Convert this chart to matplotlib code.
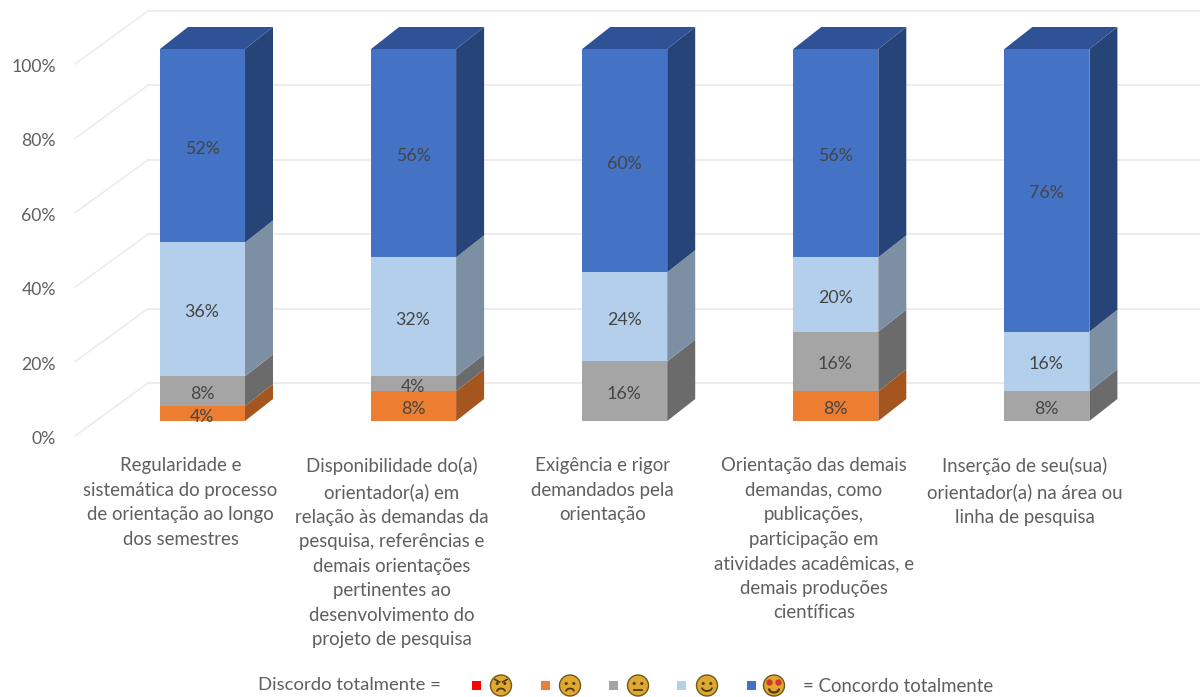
import matplotlib
matplotlib.use("Agg")
import matplotlib.pyplot as plt
from matplotlib.patches import Polygon, Circle, Rectangle, Arc

categories = [
    "Regularidade e\nsistemática do processo\nde orientação ao longo\ndos semestres",
    "Disponibilidade do(a)\norientador(a) em\nrelação às demandas da\npesquisa, referências e\ndemais orientações\npertinentes ao\ndesenvolvimento do\nprojeto de pesquisa",
    "Exigência e rigor\ndemandados pela\norientação",
    "Orientação das demais\ndemandas, como\npublicações,\nparticipação em\natividades acadêmicas, e\ndemais produções\ncientíficas",
    "Inserção de seu(sua)\norientador(a) na área ou\nlinha de pesquisa",
]
s1_red = [0, 0, 0, 0, 0]
s2_orange = [4, 8, 0, 8, 0]
s3_gray = [8, 4, 16, 16, 8]
s4_light = [36, 32, 24, 20, 16]
s5_blue = [52, 56, 60, 56, 76]
yticks = [0, 20, 40, 60, 80, 100]

series = [s1_red, s2_orange, s3_gray, s4_light, s5_blue]
front = ["#FF0000", "#ED7D31", "#A5A5A5", "#B4CFEB", "#4472C4"]
side = ["#A00000", "#A5561F", "#6B6B6B", "#7C8FA3", "#264478"]
top = ["#C00000", "#B5601F", "#7C7C7C", "#8FA5BC", "#2F5296"]

W, H = 1200, 697
PX_CAT = 211.1
PX_PCT = 3.72
X0_PX = 202.5
Y0_PX = 421.0
BAR_W = 85 / PX_CAT
DX = 28 / PX_CAT
DY = 22 / PX_PCT
TXT = "#5F5F5F"
plt.rcParams["font.family"] = ["Lato", "DejaVu Sans"]

fig = plt.figure(figsize=(W / 100, H / 100), dpi=100)
ax = fig.add_axes([0, 0, 1, 1])
ax.set_xlim(-X0_PX / PX_CAT, (W - X0_PX) / PX_CAT)
ax.set_ylim(-(H - Y0_PX) / PX_PCT, Y0_PX / PX_PCT)
ax.axis("off")

gl, gr = (148 - X0_PX) / PX_CAT, (W - X0_PX) / PX_CAT
sl = (75 - X0_PX) / PX_CAT
for t in yticks:
    ax.plot([gl, gr], [t + 38 / PX_PCT, t + 38 / PX_PCT], color="#E8E8E8", lw=1.1, zorder=1)
    ax.plot([sl, gl], [t - 15 / PX_PCT, t + 38 / PX_PCT], color="#EBEBEB", lw=1.1, zorder=1)
    ax.text((56 - X0_PX) / PX_CAT, t - 18 / PX_PCT, f"{t}%", ha="right", va="center",
            fontsize=12.7, color=TXT)

for i in range(len(categories)):
    bottom = 0
    for j, vals in enumerate(series):
        v = vals[i]
        if v == 0:
            continue
        l = i - BAR_W / 2
        r = i + BAR_W / 2
        ax.bar(i, v, BAR_W, bottom=bottom, color=front[j], zorder=3, linewidth=0)
        ax.add_patch(Polygon([(r, bottom), (r + DX, bottom + DY), (r + DX, bottom + v + DY), (r, bottom + v)],
                             closed=True, fc=side[j], ec="none", zorder=2.5))
        if bottom + v >= 100:
            ax.add_patch(Polygon([(l, 100), (l + DX, 100 + DY), (r + DX, 100 + DY), (r, 100)],
                                 closed=True, fc=top[j], ec="none", zorder=2.5))
        ax.text(i - 0.5 / PX_CAT, bottom + v / 2 - 3 / PX_PCT, f"{v}%", ha="center", va="center",
                fontsize=12.8, color="#454545", zorder=4)
        bottom += v
    ax.text(i - 22 / PX_CAT, -36 / PX_PCT, categories[i], ha="center", va="top",
            fontsize=13.4, color=TXT, linespacing=1.54, zorder=4)

lg = fig.add_axes([0, 0, 1, 1], facecolor="none")
lg.set_xlim(0, W)
lg.set_ylim(H, 0)
lg.axis("off")
lg.text(441, 685.5, "Discordo totalmente =", ha="right", va="center", fontsize=13.3, color=TXT)
lg.text(803, 686, "= Concordo totalmente", ha="left", va="center", fontsize=13.4, color=TXT)
swatch_x = [472, 541, 609, 677, 747]
face_x = [501, 570, 638, 707, 774]
ink = "#4A3A15"
for k in range(5):
    lg.add_patch(Rectangle((swatch_x[k], 681), 9, 9, fc=front[k], ec="none"))
    cx, cy = face_x[k], 685.5
    lg.add_patch(Circle((cx, cy), 10.5, fc="#E0A82E", ec="#6B5A20", lw=1))
    if k == 4:
        lg.add_patch(Circle((cx - 4.5, cy - 3), 3.2, fc="#D8342B", ec="none"))
        lg.add_patch(Circle((cx + 4.5, cy - 3), 3.2, fc="#D8342B", ec="none"))
        lg.add_patch(Arc((cx, cy + 3), 10, 8, theta1=0, theta2=180, color=ink, lw=1.6))
    else:
        lg.add_patch(Circle((cx - 3.8, cy - 2), 1.5, fc=ink, ec="none"))
        lg.add_patch(Circle((cx + 3.8, cy - 2), 1.5, fc=ink, ec="none"))
        if k == 0:
            lg.plot([cx - 6, cx - 1.5], [cy - 6, cy - 3.5], color=ink, lw=1.2)
            lg.plot([cx + 6, cx + 1.5], [cy - 6, cy - 3.5], color=ink, lw=1.2)
            lg.add_patch(Arc((cx, cy + 6), 8, 6, theta1=180, theta2=360, color=ink, lw=1.3))
        elif k == 1:
            lg.add_patch(Arc((cx, cy + 6), 8, 6, theta1=180, theta2=360, color=ink, lw=1.3))
        elif k == 2:
            lg.plot([cx - 4, cx + 4], [cy + 4.5, cy + 4.5], color=ink, lw=1.3)
        else:
            lg.add_patch(Arc((cx, cy + 2), 10, 7, theta1=0, theta2=180, color=ink, lw=1.3))

fig.savefig("out.png", dpi=100)
